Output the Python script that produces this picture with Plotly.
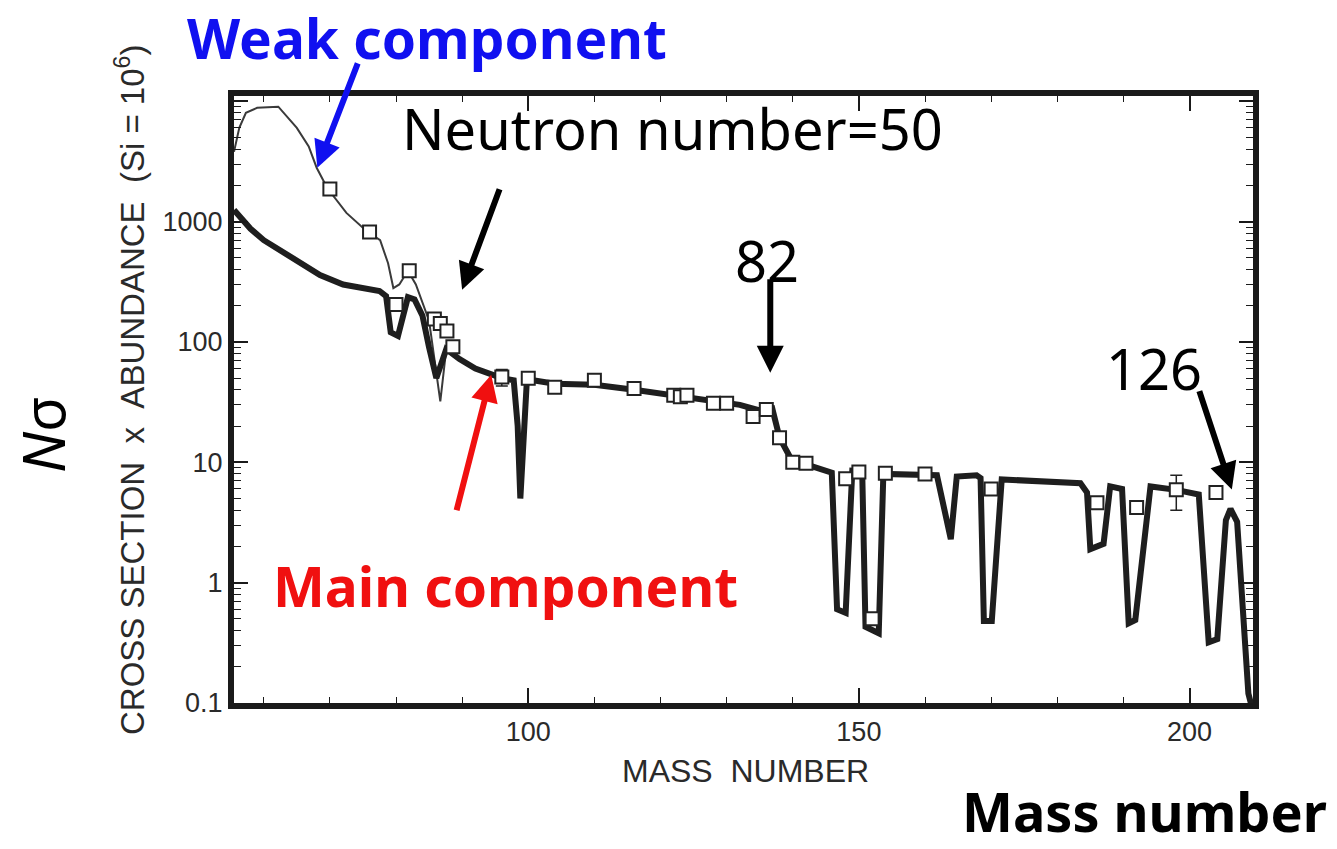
import math
import plotly.graph_objects as go

# ---- data -------------------------------------------------------------
# main s-process component (thick curve): mass number, N*sigma
main_A = [55.5, 58, 60, 62.5, 65, 68.5, 72, 75, 77.5, 78.5, 79.2, 80.3, 81, 81.8,
          82.8, 84, 85, 86.1, 87.6, 89.6, 92, 94, 96, 97.8, 98.4, 98.8, 99.3, 99.8,
          104, 110, 116, 120, 124, 128, 132, 135, 136.9, 138, 139.8, 142, 145.2,
          145.9, 146.7, 148, 149, 150.5, 151, 153, 153.7, 160, 161.8, 163.9, 164.8,
          167.8, 168.4, 168.9, 170.1, 171.6, 183.5, 184.5, 185, 187, 188, 189.8,
          190.8, 191.8, 194.1, 198, 201.4, 202.9, 204.2, 205.5, 206.2, 207.2,
          208.9, 209.6]
main_val = [1250, 870, 700, 580, 470, 360, 300, 280, 265, 240, 120, 112, 160, 235,
            225, 165, 90, 50, 87, 72, 60, 55, 50, 48, 20, 5, 20, 49,
            45, 44, 40, 37, 35, 32, 30, 27, 28, 16, 10.5, 9.6, 8.5,
            8.2, 0.6, 0.56, 8.5, 8.4, 0.43, 0.38, 8.0, 8.0, 7.8, 2.3, 7.6,
            7.8, 7.4, 0.48, 0.48, 7.2, 6.7, 5.6, 1.9, 2.1, 6.3, 6.0,
            0.46, 0.49, 6.3, 5.9, 5.4, 0.32, 0.34, 3.3, 4.1, 3.2,
            0.12, 0.085]

# weak + main (thin curve), light-element side
weak_A = [55.5, 56.3, 57.3, 59, 62.2, 63, 65, 66.8, 68, 69.6, 72.5, 75.7, 77.6,
          78.8, 79.6, 80.5, 81.8, 83, 85, 86.7, 87.6, 89, 92, 96]
weak_val = [3800, 6000, 8000, 8800, 9000, 8000, 6000, 4200, 2800, 1900, 1180, 820,
            700, 450, 280, 300, 390, 300, 150, 32, 87, 75, 60, 50]

# s-only nuclei (open squares)
s_A = [70, 76, 80, 82, 85.8, 86.7, 87.7, 88.6, 96, 100, 104, 110, 116, 122, 123,
       124, 128, 130, 134, 136, 138, 140, 142, 148, 150, 152, 154, 160, 170, 186,
       192, 198, 204]
s_val = [1860, 820, 205, 390, 155, 142, 123, 91, 51, 50, 42, 48, 41, 36, 35,
         36, 31, 31, 24, 27.5, 16, 10, 9.8, 7.3, 8.3, 0.5, 8.1, 8.0, 6.0, 4.6,
         4.2, 5.9, 5.6]
s_err = [0] * len(s_val)
s_err[s_A.index(96)] = 8
s_err[s_A.index(198)] = 1.9

y_ticks = [0.1, 1, 10, 100, 1000, 10000]
y_tick_text = ["0.1", "1", "10", "100", "1000", ""]
x_ticks = [100, 150, 200]
x_minor = [v for v in range(60, 210, 10) if v not in x_ticks]
y_minor = [m * 10 ** d for d in range(-1, 4) for m in range(2, 10)]

# ---- figure geometry --------------------------------------------------
W, H = 1337, 849
L, R, T, B = 234, 84, 96, 146
PW, PH = W - L - R, H - T - B


def px(xp):
    return (xp - L) / PW


def py(yp):
    return (H - B - yp) / PH


fig = go.Figure()

fig.add_trace(go.Scatter(x=weak_A, y=weak_val, mode="lines",
                         line=dict(color="#3a3a3a", width=2), hoverinfo="skip"))
fig.add_trace(go.Scatter(x=main_A, y=main_val, mode="lines",
                         line=dict(color="#1e1e1e", width=6), hoverinfo="skip"))
fig.add_trace(go.Scatter(
    x=s_A, y=s_val, mode="markers",
    error_y=dict(type="data", array=s_err, color="#222", thickness=1.5, width=6),
    marker=dict(symbol="square", size=13, color="white",
                line=dict(color="#222", width=2)),
    hoverinfo="skip"))

tick_font = dict(family="Liberation Sans, Arial, sans-serif", size=27, color="#2a2a2a")

fig.update_xaxes(
    range=[55.5, 209.6], showline=True, linewidth=6, linecolor="#1a1a1a",
    mirror="allticks", ticks="inside", ticklen=15, tickwidth=1.5, tickcolor="#1a1a1a",
    tickvals=x_ticks, ticktext=[str(v) for v in x_ticks], tickfont=tick_font,
    minor=dict(tickvals=x_minor, ticks="inside", ticklen=6, tickwidth=1.2,
               tickcolor="#1a1a1a"),
    showgrid=False, zeroline=False)
fig.update_yaxes(
    type="log", range=[-1, 4.043], showline=True, linewidth=6, linecolor="#1a1a1a",
    mirror="allticks", ticks="inside", ticklen=14, tickwidth=1.5, tickcolor="#1a1a1a",
    tickvals=y_ticks, ticktext=y_tick_text, tickfont=tick_font,
    minor=dict(tickvals=y_minor, ticks="inside", ticklen=7, tickwidth=1.2,
               tickcolor="#1a1a1a"),
    showgrid=False, zeroline=False)

big = "Noto Sans, Open Sans, sans-serif"
ann = []


def text(x, y, s, size, color="black", angle=0, family=big):
    ann.append(dict(xref="paper", yref="paper", x=px(x), y=py(y), text=s,
                    showarrow=False, xanchor="center", yanchor="middle",
                    textangle=angle, font=dict(family=family, size=size, color=color)))


def arrow(a, v, dx, dy, color):
    ann.append(dict(xref="x", yref="y", x=a, y=math.log10(v), ax=dx, ay=dy,
                    axref="pixel", ayref="pixel", text="", showarrow=True,
                    arrowhead=2, arrowsize=0.9, arrowwidth=6, arrowcolor=color,
                    standoff=0))


text(427, 37, "<b>Weak component</b>", 55, "#1010f0")
text(672, 128, "Neutron number=50", 56)
text(767, 260, "82", 56)
text(1154, 368, "126", 56)
text(505, 585, "<b>Main component</b>", 55, "#f01010")
text(1144, 811, "<b>Mass number</b>", 54)
text(42, 435, "<i>N</i>σ", 58, angle=-90)
text(130, 390, "CROSS SECTION\u00a0\u00a0x\u00a0\u00a0ABUNDANCE\u00a0\u00a0(Si = 10<sup>6</sup>)",
     33, "#2a2a2a", angle=-90, family="Liberation Sans, Arial, sans-serif")
text(745, 771, "MASS\u00a0\u00a0NUMBER", 32, "#2a2a2a",
     family="Liberation Sans, Arial, sans-serif")

arrow(68.1, 10 ** 3.446, 41, -106, "#1010f0")
arrow(90.0, 10 ** 2.433, 38, -102, "black")
arrow(136.6, 10 ** 1.744, 0, -95, "black")
arrow(206.4, 10 ** 0.773, -33, -100, "black")
arrow(94.4, 10 ** 1.728, -35, 137, "#f01010")

fig.update_layout(
    width=W, height=H, margin=dict(l=L, r=R, t=T, b=B),
    paper_bgcolor="white", plot_bgcolor="white", showlegend=False,
    annotations=ann)

fig.write_html("out.html")
